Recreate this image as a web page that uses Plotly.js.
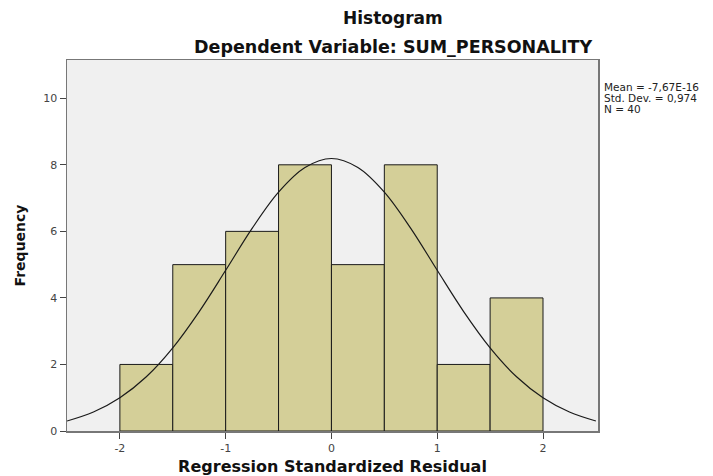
<!DOCTYPE html>
<html><head><meta charset="utf-8">
<script src="https://cdn.plot.ly/plotly-3.0.1.min.js"></script>
<style>body{margin:0;background:#fff}#c{width:713px;height:476px}</style>
</head><body><div id="c"></div>
<script>
const binCenters = [-1.75, -1.25, -0.75, -0.25, 0.25, 0.75, 1.25, 1.75];
const frequencies = [2, 5, 6, 8, 5, 8, 2, 4];
const curveX = [-2.5, -2.25, -2.0, -1.75, -1.5, -1.25, -1.0, -0.75, -0.5, -0.25, 0, 0.25, 0.5, 0.75, 1.0, 1.25, 1.5, 1.75, 2.0, 2.25, 2.5];
const curveY = [0.30, 0.57, 1.0, 1.63, 2.5, 3.59, 4.83, 6.09, 7.18, 7.92, 8.19, 7.92, 7.18, 6.09, 4.83, 3.59, 2.5, 1.63, 1.0, 0.57, 0.30];
const xTicks = [-2, -1, 0, 1, 2];
const yTicks = [0, 2, 4, 6, 8, 10];
const statsLines = ['Mean = -7,67E-16', 'Std. Dev. = 0,974', 'N = 40'];

const font = 'DejaVu Sans, Arial, sans-serif';
const traces = [
  {type:'bar', x:binCenters, y:frequencies, width:0.5,
   marker:{color:'#d4cf98', line:{color:'#1a1a1a', width:1}}, hoverinfo:'skip'},
  {type:'scatter', mode:'lines', x:curveX, y:curveY,
   line:{color:'#1a1a1a', width:1.2, shape:'spline'}, hoverinfo:'skip'}
];
const annotations = [
  {text:'<b>Histogram</b>', xref:'paper', yref:'paper', x:0.614, y:1, yshift:42,
   showarrow:false, font:{size:17, color:'#111'}, xanchor:'center', yanchor:'middle'},
  {text:'<b>Dependent Variable: SUM_PERSONALITY</b>', xref:'paper', yref:'paper', x:0.614, y:1, yshift:13,
   showarrow:false, font:{size:17.5, color:'#111'}, xanchor:'center', yanchor:'middle'}
];
statsLines.forEach((t, i) => annotations.push({
  text:t, xref:'paper', yref:'paper', x:1, xshift:4, y:1, yshift:-27 - i*11,
  showarrow:false, align:'left', xanchor:'left', yanchor:'middle',
  font:{size:10.5, color:'#222'}
}));
const layout = {
  width:713, height:476, showlegend:false,
  margin:{l:67, r:115, t:60, b:45},
  paper_bgcolor:'#ffffff', plot_bgcolor:'#f0f0f0',
  font:{family:font, color:'#333'},
  xaxis:{range:[-2.5, 2.52], tickvals:xTicks, ticktext:xTicks.map(String),
    ticks:'outside', ticklen:6, tickcolor:'#444', showgrid:false, zeroline:false,
    showline:true, linecolor:'#777', linewidth:1.5, mirror:true,
    tickfont:{size:11, color:'#444'},
    title:{text:'<b>Regression Standardized Residual</b>', font:{size:16, color:'#111'}, standoff:7}},
  yaxis:{range:[0, 11.15], tickvals:yTicks, ticktext:yTicks.map(String),
    ticks:'outside', ticklen:6, tickcolor:'#444', showgrid:false, zeroline:false,
    showline:true, linecolor:'#777', linewidth:1.5, mirror:true,
    tickfont:{size:11, color:'#444'},
    title:{text:'<b>Frequency</b>', font:{size:14, color:'#111'}, standoff:14}},
  annotations:annotations
};
Plotly.newPlot('c', traces, layout, {displayModeBar:false, staticPlot:true});
</script></body></html>
